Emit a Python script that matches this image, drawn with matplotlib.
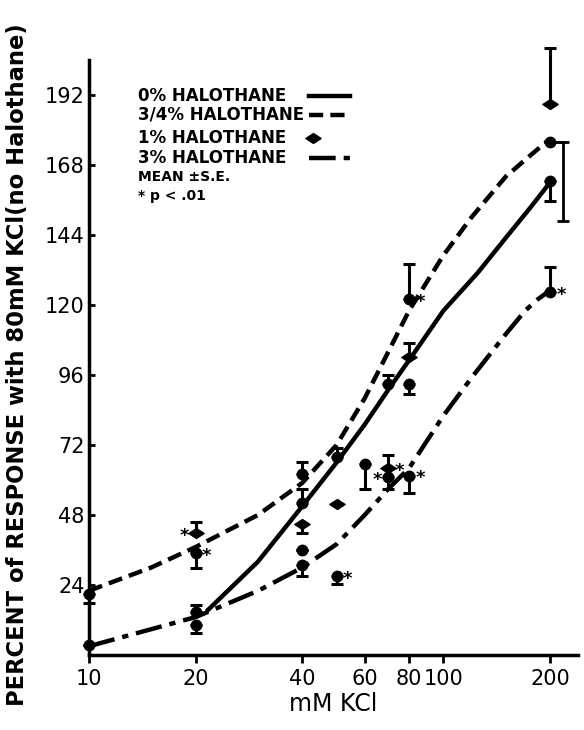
import matplotlib
matplotlib.use("Agg")
import matplotlib.pyplot as plt
from matplotlib.path import Path

# curves
kcl_0 = [21.5, 30, 40, 50, 60, 70, 80, 100, 125, 150, 175, 200]
resp_0 = [15, 32, 51, 66, 79, 91, 101, 118, 131, 143, 153, 162]
kcl_34 = [10, 15, 20, 30, 40, 50, 60, 70, 80, 100, 120, 150, 175, 200]
resp_34 = [22, 30, 37, 48, 59, 72, 88, 104, 118, 137, 150, 164, 171, 177]
kcl_3 = [10, 20, 30, 40, 50, 60, 70, 80, 100, 120, 150, 170, 185, 200]
resp_3 = [3, 13, 22, 30, 38, 48, 57, 64, 82, 95, 110, 118, 122, 125]

# circles: mean, S.E. below, S.E. above
circ_x = [10, 10, 20, 20, 20, 40, 40, 40, 40, 50, 50, 60, 70, 70, 80, 80, 80, 200, 200, 200]
circ_y = [21, 3.4, 35, 14.7, 10.2, 62, 52, 36, 31, 68, 27, 65.6, 93, 61, 122, 93, 61.5, 176, 162.6, 124.5]
circ_lo = [3, 0, 5, 0, 2.7, 0, 0, 0, 4, 0, 2.7, 8.6, 0, 4, 0, 3.5, 6, 0, 7, 0]
circ_hi = [0, 0, 0, 2.5, 0, 4, 5, 0, 0, 3, 0, 0, 3, 0, 12, 0, 0, 0, 0, 8.5]

# 1% halothane diamonds
dia_x = [20, 40, 50, 70, 80, 200]
dia_y = [41.7, 45, 51.6, 64.2, 102, 189]
dia_lo = [0, 3.3, 0, 0, 0, 0]
dia_hi = [4, 0, 0, 4.5, 5, 19]

# S.E. of 3/4% at 200 mM, drawn to the side
side_x = 218
side_top = 176
side_lo = 27.4

# p < .01 marks (point they belong to, side)
star_x = [20, 20, 80, 50, 70, 70, 80, 200]
star_y = [41.7, 35, 122, 27, 61, 64.2, 61.5, 124.5]
star_side = [-1, 1, 1, 1, -1, 1, 1, 1]

xticks = [10, 20, 40, 60, 80, 100, 200]
yticks = [24, 48, 72, 96, 120, 144, 168, 192]

fig = plt.figure(figsize=(5.84, 7.3), dpi=100)
ax = fig.add_axes([0.152, 0.1027, 0.838, 0.8153])

ax.plot(kcl_0, resp_0, color='k', lw=3.2, solid_capstyle='butt')
ax.plot(kcl_34, resp_34, color='k', lw=3.2, dashes=(3.2, 1.6))
ax.plot(kcl_3, resp_3, color='k', lw=3.2, dashes=(6, 1.8, 1.4, 1.8))

ax.errorbar(circ_x, circ_y, yerr=[circ_lo, circ_hi], fmt='o', color='k', ms=7.5,
            capsize=4.5, elinewidth=2.2, capthick=2.2, clip_on=False, zorder=3)

diamond = Path([(-1, 0), (0, 0.65), (1, 0), (0, -0.65), (-1, 0)],
               [Path.MOVETO, Path.LINETO, Path.LINETO, Path.LINETO, Path.CLOSEPOLY])
eb = ax.errorbar(dia_x, dia_y, yerr=[dia_lo, dia_hi], fmt='none', ecolor='k',
                 capsize=4.5, elinewidth=2.2, capthick=2.2, clip_on=False, zorder=3)
for a in eb.lines[1] + eb.lines[2]:
    a.set_clip_on(False)
ax.plot(dia_x, dia_y, ls='none', marker=diamond, ms=11, color='k', clip_on=False, zorder=4)

ax.plot([200, side_x], [side_top, side_top], color='k', lw=2)
ax.errorbar([side_x], [side_top], yerr=[[side_lo], [0]], fmt='none', ecolor='k',
            capsize=4.5, elinewidth=2, capthick=2)

for x, y, s in zip(star_x, star_y, star_side):
    ax.annotate('*', (x, y), xytext=(s * 8, -2), textcoords='offset points',
                ha='center', va='center', fontsize=13, fontweight='bold')

ax.set_xscale('log')
ax.set_xlim(10, 240)
ax.set_ylim(0, 204)
ax.set_xticks(xticks)
ax.set_xticklabels([str(t) for t in xticks])
ax.xaxis.set_minor_locator(matplotlib.ticker.NullLocator())
ax.set_yticks(yticks)
ax.tick_params(axis='x', direction='out', length=6, width=2, pad=4, labelsize=15)
ax.tick_params(axis='y', direction='in', length=4, width=2, pad=3, labelsize=15)
for sp in ['top', 'right']:
    ax.spines[sp].set_visible(False)
for sp in ['left', 'bottom']:
    ax.spines[sp].set_linewidth(2.5)

ax.set_xlabel('mM KCl', fontsize=17, labelpad=2)
fig.text(0.03, 0.5, 'PERCENT of RESPONSE with 80mM KCl(no Halothane)', rotation=90,
         ha='center', va='center', fontsize=16.3, fontweight='bold')

# legend drawn by hand
rows = [0.939, 0.908, 0.869, 0.835, 0.803, 0.771]
labels = ['0% HALOTHANE', '3/4% HALOTHANE', '1% HALOTHANE', '3% HALOTHANE', 'MEAN \u00b1S.E.', '* p < .01']
sizes = [12, 12, 12, 12, 10, 10]
for r, lab, fs in zip(rows, labels, sizes):
    ax.text(0.10, r, lab, transform=ax.transAxes, ha='left', va='center',
            fontsize=fs, fontweight='bold')
ax.plot([0.45, 0.534], [rows[0], rows[0]], transform=ax.transAxes, color='k', lw=3.2)
ax.plot([0.45, 0.534], [rows[1], rows[1]], transform=ax.transAxes, color='k', lw=3.2, dashes=(3.2, 1.6))
ax.plot([0.458], [rows[2]], transform=ax.transAxes, color='k', marker=diamond, ms=11, ls='none')
ax.plot([0.45, 0.534], [rows[3], rows[3]], transform=ax.transAxes, color='k', lw=3.2, dashes=(6, 1.8, 1.4, 1.8))

fig.savefig('out.png', dpi=100)
